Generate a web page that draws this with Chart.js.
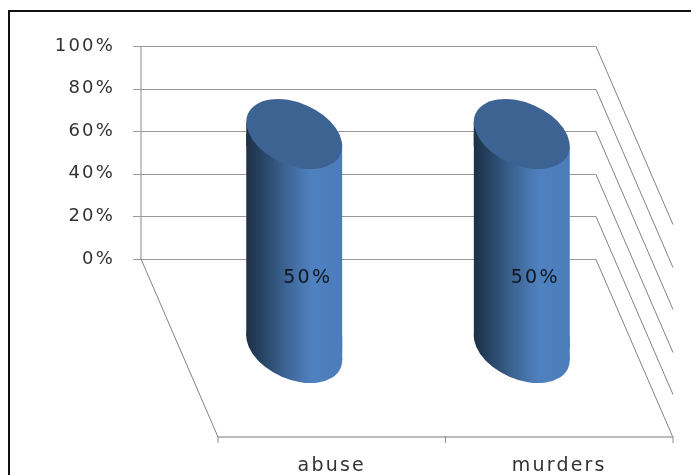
<!DOCTYPE html>
<html>
<head>
<meta charset="utf-8">
<script src="https://cdn.jsdelivr.net/npm/chart.js@4"></script>
<style>
  html, body { margin: 0; padding: 0; background: #fff; overflow: hidden; }
  canvas { display: block; filter: blur(0.5px); }
</style>
</head>
<body>
<canvas id="cylinderChart" width="691" height="475"></canvas>
<script>
// 数据
const categories = ['abuse', 'murders'];
const seriesValues = [50, 50];
const yTicks = [0, 20, 40, 60, 80, 100];

// the floor of the 3D box hangs below 0%, so the axis runs past it
const yFloor = -83.57;
const wallLeft = 141;
const barShift = -37.5;   // bars stand in the middle of the floor depth
const rx = 50.5, ry = 31.2, tilt = 23.5 * Math.PI / 180;
const edgeDy = 12;        // tilted ellipse touches the sides above/below its centre

function cylinderGradient(ctx, cx) {
    // scales have no size yet on the first pass
    if (!Number.isFinite(cx)) return '#3d6595';
    const g = ctx.createLinearGradient(cx - 48, 0, cx + 48, 0);
    g.addColorStop(0, '#1d3046');
    g.addColorStop(0.14, '#24405f');
    g.addColorStop(0.42, '#3d6595');
    g.addColorStop(0.68, '#4f81c0');
    g.addColorStop(1, '#4b7dbb');
    return g;
}

function line(ctx, x1, y1, x2, y2, color, width) {
    ctx.strokeStyle = color;
    ctx.lineWidth = width;
    ctx.beginPath();
    ctx.moveTo(x1, y1);
    ctx.lineTo(x2, y2);
    ctx.stroke();
}

const box3d = {
    id: 'box3d',
    beforeDraw(chart) {
        const ctx = chart.ctx;
        ctx.letterSpacing = '2.2px';
        // 外框
        ctx.save();
        line(ctx, 9, 11, 691, 11, '#111', 2);
        line(ctx, 9, 10, 9, 475, '#111', 2);
        ctx.restore();
    },
    beforeDatasetsDraw(chart) {
        const ctx = chart.ctx, area = chart.chartArea, y = chart.scales.y;
        const y0 = y.getPixelForValue(0);
        const dx = area.left - wallLeft, dy = area.bottom - y0;
        const wallRight = area.right - dx;
        ctx.save();
        line(ctx, wallLeft, y.getPixelForValue(100), wallLeft, y0, '#c4c4c4', 2);
        yTicks.forEach(v => {
            const py = Math.round(y.getPixelForValue(v)) + 0.5;
            line(ctx, wallLeft - 8, py, wallRight, py, '#999', 1);
            line(ctx, wallRight, py, wallRight + dx, py + dy, '#828282', 1);
        });
        line(ctx, wallLeft, y0, area.left, area.bottom, '#828282', 1);
        line(ctx, area.left, area.bottom, area.right, area.bottom, '#bdbdbd', 2);
        const xs = [area.left, (area.left + area.right) / 2, area.right];
        xs.forEach(x => line(ctx, x, area.bottom - 1, x, area.bottom + 6, '#8c8c8c', 1));
        ctx.restore();
    },
    beforeDatasetDraw(chart, args) {
        const ctx = chart.ctx;
        const bars = chart.getDatasetMeta(args.index).data;
        ctx.save();
        ctx.translate(barShift, 0);
        // 底部椭圆
        bars.forEach(bar => {
            const half = bar.width / 2;
            ctx.fillStyle = bar.options.backgroundColor;
            ctx.beginPath();
            ctx.ellipse(bar.x, bar.base, rx, ry, tilt, 0, Math.PI * 2);
            ctx.fill();
            // wedge between the flat bar end and the tilted ellipse
            ctx.beginPath();
            ctx.moveTo(bar.x - half, bar.base - edgeDy);
            ctx.lineTo(bar.x + half, bar.base - edgeDy);
            ctx.lineTo(bar.x + half, bar.base + edgeDy);
            ctx.closePath();
            ctx.fill();
            // same at the top, the cap covers most of it
            ctx.beginPath();
            ctx.moveTo(bar.x - half, bar.y - edgeDy);
            ctx.lineTo(bar.x + half, bar.y + edgeDy);
            ctx.lineTo(bar.x - half, bar.y + edgeDy);
            ctx.closePath();
            ctx.fill();
        });
        // cut the square corners of the bars off
        ctx.beginPath();
        bars.forEach(bar => {
            const half = bar.width / 2;
            ctx.moveTo(bar.x - half, bar.y - edgeDy);
            ctx.lineTo(bar.x + half, bar.y + edgeDy);
            ctx.lineTo(bar.x + half, bar.base + edgeDy);
            ctx.lineTo(bar.x - half, bar.base - edgeDy);
            ctx.closePath();
        });
        ctx.clip();
    },
    afterDatasetDraw(chart, args) {
        const ctx = chart.ctx;
        const bars = chart.getDatasetMeta(args.index).data;
        ctx.restore();
        ctx.save();
        ctx.translate(barShift, 0);
        bars.forEach((bar, i) => {
            // 顶部椭圆
            ctx.fillStyle = '#3c6391';
            ctx.beginPath();
            ctx.ellipse(bar.x, bar.y, rx, ry, tilt, 0, Math.PI * 2);
            ctx.fill();
            // 数据标签
            ctx.fillStyle = '#101820';
            ctx.font = '19px "DejaVu Sans"';
            ctx.textAlign = 'center';
            ctx.textBaseline = 'middle';
            ctx.fillText(seriesValues[i] + '%', bar.x + 13.5, (bar.y + bar.base) / 2 + 37);
        });
        ctx.restore();
    }
};

new Chart(document.getElementById('cylinderChart').getContext('2d'), {
    type: 'bar',
    data: {
        labels: categories,
        datasets: [{
            data: seriesValues,
            yAxisID: 'yBar',
            barThickness: 96,
            borderWidth: 0,
            backgroundColor: c => cylinderGradient(c.chart.ctx, c.chart.scales.x.getPixelForValue(c.dataIndex))
        }]
    },
    options: {
        responsive: false,
        animation: false,
        layout: { padding: { top: 46, right: 18, left: 0, bottom: 0 } },
        plugins: {
            legend: { display: false },
            title: { display: false },
            tooltip: { enabled: false }
        },
        scales: {
            x: {
                grid: { display: false },
                border: { display: false },
                afterFit: s => { s.height = 38; },
                ticks: {
                    color: '#333',
                    padding: 10,
                    maxRotation: 0,
                    font: { family: '"DejaVu Sans"', size: 19 }
                }
            },
            y: {
                min: yFloor,
                max: 100,
                grid: { display: false },
                border: { display: false },
                afterFit: s => {
                    // tick padding would otherwise push the plot area in from top and bottom
                    s.width = 218;
                    s.paddingTop = 0;
                    s.paddingBottom = 0;
                },
                afterBuildTicks: s => { s.ticks = yTicks.map(v => ({ value: v })); },
                ticks: {
                    color: '#333',
                    padding: 95,
                    callback: v => v + '%',
                    font: { family: '"DejaVu Sans"', size: 18 }
                }
            },
            // cylinders are drawn taller than the wall scale, as in the picture
            yBar: {
                display: false,
                min: -20.79,
                max: 70.56
            }
        }
    },
    plugins: [box3d]
});
</script>
</body>
</html>
